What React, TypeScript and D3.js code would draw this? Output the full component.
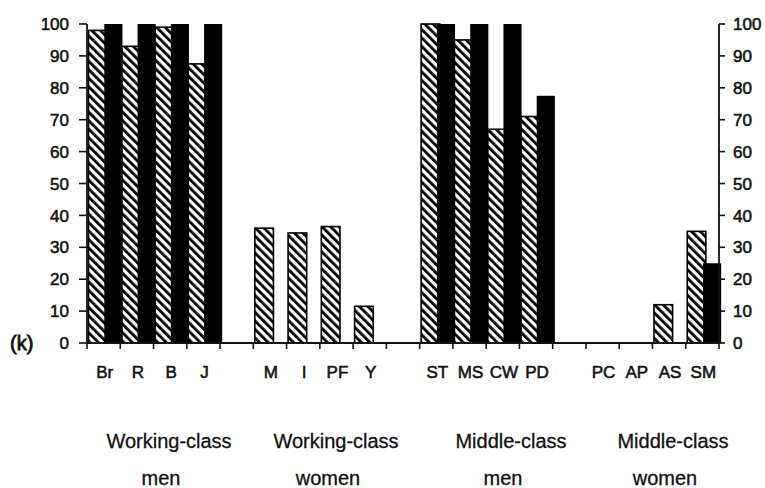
import React, { useEffect, useRef } from 'react';
import * as d3 from 'd3';

// slots along the x axis, blank entries are the gaps between groups
const slots = ['Br', 'R', 'B', 'J', '', 'M', 'I', 'PF', 'Y', ' ', 'ST', 'MS', 'CW', 'PD', '  ', 'PC', 'AP', 'AS', 'SM'];
const categories = ['Br', 'R', 'B', 'J', 'M', 'I', 'PF', 'Y', 'ST', 'MS', 'CW', 'PD', 'PC', 'AP', 'AS', 'SM'];
const hatchedValues = [98, 93, 99, 87.5, 36, 34.5, 36.5, 11.5, 100, 95, 67, 71, 0, 0, 12, 35];
const solidValues = [100, 100, 100, 100, 0, 0, 0, 0, 100, 100, 100, 77.5, 0, 0, 0, 25];
const yTicks = [0, 10, 20, 30, 40, 50, 60, 70, 80, 90, 100];
const groupLabels = [
  ['Working-class', 'men'],
  ['Working-class', 'women'],
  ['Middle-class', 'men'],
  ['Middle-class', 'women']
];
const groupCenters = [169, 336, 511, 673];

const W = 765;
const H = 488;

const App: React.FC = () => {
  const svgRef = useRef<SVGSVGElement>(null);

  useEffect(() => {
    if (!svgRef.current) return;
    const svg = d3.select(svgRef.current);
    svg.selectAll('*').remove();

    const left = 87;
    const right = 719;
    const top = 24;
    const bottom = 343;
    const font = 'Arial, "Liberation Sans", sans-serif';
    const ink = '#111';

    const x = d3.scaleBand().domain(slots).range([left, right]).padding(0);
    const y = d3.scaleLinear().domain([0, 100]).range([bottom, top]);
    const bw = x.bandwidth();

    // hatch pattern
    const defs = svg.append('defs');
    const pat = defs.append('pattern')
      .attr('id', 'hatch')
      .attr('patternUnits', 'userSpaceOnUse')
      .attr('width', 6)
      .attr('height', 6)
      .attr('patternTransform', 'rotate(-45)');
    pat.append('rect').attr('width', 6).attr('height', 6).attr('fill', '#fff');
    pat.append('rect').attr('x', 0).attr('y', 0).attr('width', 2.8).attr('height', 6).attr('fill', '#000');

    const rows = categories.map((c, i) => ({ c, h: hatchedValues[i], s: solidValues[i] }));

    // hatched bars
    svg.append('g').selectAll('rect')
      .data(rows.filter(d => d.h > 0))
      .join('rect')
      .attr('x', d => (x(d.c) || 0) + 1.5)
      .attr('y', d => y(d.h))
      .attr('width', bw * 0.56)
      .attr('height', d => bottom - y(d.h))
      .attr('fill', 'url(#hatch)')
      .attr('stroke', '#000')
      .attr('stroke-width', 1.6);

    // solid bars
    svg.append('g').selectAll('rect')
      .data(rows.filter(d => d.s > 0))
      .join('rect')
      .attr('x', d => (x(d.c) || 0) + bw * 0.52)
      .attr('y', d => y(d.s))
      .attr('width', bw * 0.5 + 1.5)
      .attr('height', d => bottom - y(d.s))
      .attr('fill', '#000');

    const styleText = (sel: any, size: number, sw: number) =>
      sel.style('font-family', font).style('font-size', `${size}px`)
        .style('fill', ink).style('stroke', ink).style('stroke-width', sw);

    // left axis
    const gl = svg.append('g');
    gl.append('line').attr('x1', left).attr('x2', left).attr('y1', top).attr('y2', bottom)
      .attr('stroke', ink).attr('stroke-width', 1.8);
    gl.selectAll('line.t').data(yTicks).join('line').attr('class', 't')
      .attr('x1', left - 8).attr('x2', left).attr('y1', d => y(d)).attr('y2', d => y(d))
      .attr('stroke', ink).attr('stroke-width', 1.6);
    styleText(gl.selectAll('text').data(yTicks).join('text')
      .attr('x', 69).attr('y', d => y(d)).attr('dy', '0.36em')
      .attr('text-anchor', 'end'), 17, 0.55)
      .text((d: number) => d);

    // right axis
    const gr = svg.append('g');
    gr.append('line').attr('x1', right).attr('x2', right).attr('y1', top).attr('y2', bottom)
      .attr('stroke', ink).attr('stroke-width', 1.8);
    gr.selectAll('line.t').data(yTicks).join('line').attr('class', 't')
      .attr('x1', right).attr('x2', right + 6).attr('y1', d => y(d)).attr('y2', d => y(d))
      .attr('stroke', ink).attr('stroke-width', 1.6);
    styleText(gr.selectAll('text').data(yTicks).join('text')
      .attr('x', 733).attr('y', d => y(d)).attr('dy', '0.36em')
      .attr('text-anchor', 'start'), 17, 0.55)
      .text((d: number) => d);

    // bottom axis
    svg.append('line').attr('x1', left).attr('x2', right).attr('y1', bottom).attr('y2', bottom)
      .attr('stroke', ink).attr('stroke-width', 1.8);
    const boundaries = slots.map(s => (x(s) || 0)).concat([right]);
    svg.append('g').selectAll('line').data(boundaries).join('line')
      .attr('x1', d => d).attr('x2', d => d).attr('y1', bottom).attr('y2', bottom + 6)
      .attr('stroke', ink).attr('stroke-width', 1.6);

    styleText(svg.append('g').selectAll('text').data(categories).join('text')
      .attr('x', d => (x(d) || 0) + bw / 2 + 1)
      .attr('y', 378)
      .attr('text-anchor', 'middle'), 17, 0.55)
      .text((d: string) => d);

    // (k) label
    styleText(svg.append('text')
      .attr('x', 10).attr('y', y(0)).attr('dy', '0.36em'), 20, 0.8)
      .text('(k)');

    // group labels
    const gg = svg.append('g');
    groupLabels.forEach((lines, i) => {
      styleText(gg.append('text')
        .attr('x', groupCenters[i]).attr('y', 448)
        .attr('text-anchor', 'middle'), 20, 0.3)
        .text(lines[0]);
      styleText(gg.append('text')
        .attr('x', groupCenters[i] - 8).attr('y', 485)
        .attr('text-anchor', 'middle'), 20, 0.3)
        .text(lines[1]);
    });
  }, []);

  return (
    <div style={{ position: 'absolute', left: 0, top: 0, width: W, height: H, background: '#fff' }}>
      <svg ref={svgRef} width={W} height={H} style={{ display: 'block' }} />
    </div>
  );
};

export default App;
